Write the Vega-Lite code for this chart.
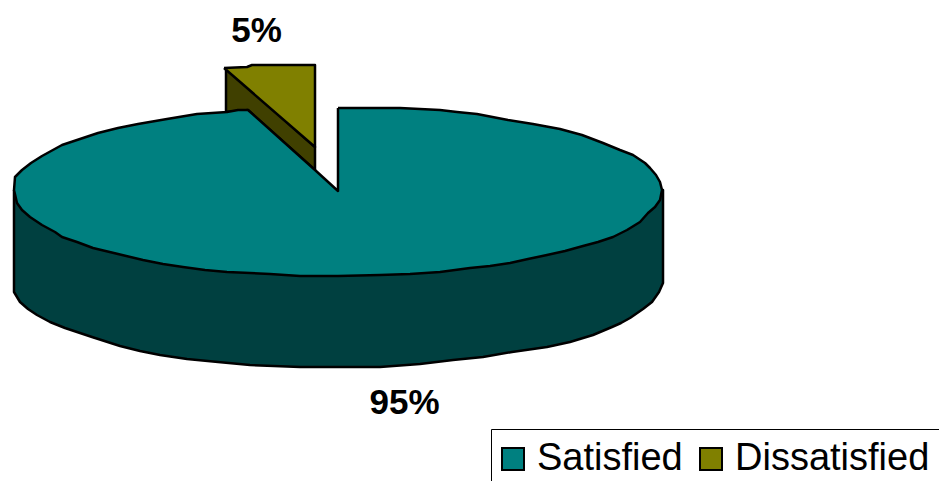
{
"$schema":"https://vega.github.io/schema/vega-lite/v6.json",
"width":939,"height":481,"padding":0,"autosize":{"type":"none"},
"background":"white",
"config":{"view":{"stroke":null}},
"layer":[
{"data":{"values":[
{"part":"Satisfied side","s":1,"x":14,"y":190},{"part":"Satisfied side","s":2,"x":14,"y":292},{"part":"Satisfied side","s":3,"x":20,"y":302},{"part":"Satisfied side","s":4,"x":28,"y":309},{"part":"Satisfied side","s":5,"x":37,"y":315},{"part":"Satisfied side","s":6,"x":50,"y":322},{"part":"Satisfied side","s":7,"x":65,"y":328},{"part":"Satisfied side","s":8,"x":92,"y":337},{"part":"Satisfied side","s":9,"x":120,"y":346},{"part":"Satisfied side","s":10,"x":140,"y":351},{"part":"Satisfied side","s":11,"x":160,"y":355},{"part":"Satisfied side","s":12,"x":187,"y":359},{"part":"Satisfied side","s":13,"x":218,"y":362},{"part":"Satisfied side","s":14,"x":250,"y":365},{"part":"Satisfied side","s":15,"x":300,"y":367},{"part":"Satisfied side","s":16,"x":338,"y":367},{"part":"Satisfied side","s":17,"x":380,"y":367},{"part":"Satisfied side","s":18,"x":420,"y":364},{"part":"Satisfied side","s":19,"x":453,"y":360},{"part":"Satisfied side","s":20,"x":483,"y":357},{"part":"Satisfied side","s":21,"x":512,"y":352},{"part":"Satisfied side","s":22,"x":547,"y":347},{"part":"Satisfied side","s":23,"x":570,"y":342},{"part":"Satisfied side","s":24,"x":593,"y":335},{"part":"Satisfied side","s":25,"x":612,"y":327},{"part":"Satisfied side","s":26,"x":621,"y":323},{"part":"Satisfied side","s":27,"x":630,"y":318},{"part":"Satisfied side","s":28,"x":643,"y":309},{"part":"Satisfied side","s":29,"x":652,"y":302},{"part":"Satisfied side","s":30,"x":659,"y":292},{"part":"Satisfied side","s":31,"x":663,"y":283},{"part":"Satisfied side","s":32,"x":663,"y":190},{"part":"Satisfied side","s":33,"x":338,"y":230},{"part":"Satisfied side","s":34,"x":14,"y":190},
{"part":"Dissatisfied side","s":1,"x":226,"y":68},{"part":"Dissatisfied side","s":2,"x":226,"y":112},{"part":"Dissatisfied side","s":3,"x":248,"y":110},{"part":"Dissatisfied side","s":4,"x":315,"y":170},{"part":"Dissatisfied side","s":5,"x":315,"y":147},{"part":"Dissatisfied side","s":6,"x":226,"y":68},
{"part":"Dissatisfied","s":1,"x":224,"y":68},{"part":"Dissatisfied","s":2,"x":247,"y":67},{"part":"Dissatisfied","s":3,"x":252,"y":65},{"part":"Dissatisfied","s":4,"x":315,"y":65},{"part":"Dissatisfied","s":5,"x":315,"y":147},{"part":"Dissatisfied","s":6,"x":224,"y":68},
{"part":"Satisfied","s":1,"x":338,"y":108},{"part":"Satisfied","s":2,"x":370,"y":108},{"part":"Satisfied","s":3,"x":400,"y":108},{"part":"Satisfied","s":4,"x":440,"y":110},{"part":"Satisfied","s":5,"x":457,"y":112},{"part":"Satisfied","s":6,"x":477,"y":114},{"part":"Satisfied","s":7,"x":508,"y":120},{"part":"Satisfied","s":8,"x":533,"y":124},{"part":"Satisfied","s":9,"x":560,"y":129},{"part":"Satisfied","s":10,"x":582,"y":135},{"part":"Satisfied","s":11,"x":603,"y":143},{"part":"Satisfied","s":12,"x":620,"y":150},{"part":"Satisfied","s":13,"x":633,"y":155},{"part":"Satisfied","s":14,"x":645,"y":163},{"part":"Satisfied","s":15,"x":650,"y":168},{"part":"Satisfied","s":16,"x":656,"y":175},{"part":"Satisfied","s":17,"x":660,"y":182},{"part":"Satisfied","s":18,"x":662,"y":190},{"part":"Satisfied","s":19,"x":660,"y":200},{"part":"Satisfied","s":20,"x":655,"y":207},{"part":"Satisfied","s":21,"x":648,"y":213},{"part":"Satisfied","s":22,"x":640,"y":222},{"part":"Satisfied","s":23,"x":627,"y":230},{"part":"Satisfied","s":24,"x":613,"y":237},{"part":"Satisfied","s":25,"x":598,"y":242},{"part":"Satisfied","s":26,"x":583,"y":246},{"part":"Satisfied","s":27,"x":565,"y":251},{"part":"Satisfied","s":28,"x":547,"y":255},{"part":"Satisfied","s":29,"x":528,"y":259},{"part":"Satisfied","s":30,"x":510,"y":263},{"part":"Satisfied","s":31,"x":490,"y":266},{"part":"Satisfied","s":32,"x":470,"y":268},{"part":"Satisfied","s":33,"x":440,"y":272},{"part":"Satisfied","s":34,"x":410,"y":274},{"part":"Satisfied","s":35,"x":380,"y":275},{"part":"Satisfied","s":36,"x":338,"y":276},{"part":"Satisfied","s":37,"x":300,"y":276},{"part":"Satisfied","s":38,"x":270,"y":274},{"part":"Satisfied","s":39,"x":227,"y":272},{"part":"Satisfied","s":40,"x":205,"y":270},{"part":"Satisfied","s":41,"x":183,"y":267},{"part":"Satisfied","s":42,"x":163,"y":264},{"part":"Satisfied","s":43,"x":143,"y":260},{"part":"Satisfied","s":44,"x":118,"y":254},{"part":"Satisfied","s":45,"x":93,"y":248},{"part":"Satisfied","s":46,"x":77,"y":242},{"part":"Satisfied","s":47,"x":62,"y":237},{"part":"Satisfied","s":48,"x":55,"y":232},{"part":"Satisfied","s":49,"x":42,"y":225},{"part":"Satisfied","s":50,"x":30,"y":217},{"part":"Satisfied","s":51,"x":22,"y":210},{"part":"Satisfied","s":52,"x":17,"y":203},{"part":"Satisfied","s":53,"x":14,"y":190},{"part":"Satisfied","s":54,"x":15,"y":177},{"part":"Satisfied","s":55,"x":22,"y":170},{"part":"Satisfied","s":56,"x":31,"y":163},{"part":"Satisfied","s":57,"x":42,"y":156},{"part":"Satisfied","s":58,"x":62,"y":145},{"part":"Satisfied","s":59,"x":80,"y":139},{"part":"Satisfied","s":60,"x":98,"y":133},{"part":"Satisfied","s":61,"x":118,"y":128},{"part":"Satisfied","s":62,"x":138,"y":124},{"part":"Satisfied","s":63,"x":167,"y":119},{"part":"Satisfied","s":64,"x":197,"y":114},{"part":"Satisfied","s":65,"x":227,"y":112},{"part":"Satisfied","s":66,"x":238,"y":110},{"part":"Satisfied","s":67,"x":248,"y":110},{"part":"Satisfied","s":68,"x":315,"y":170},{"part":"Satisfied","s":69,"x":338,"y":191},{"part":"Satisfied","s":70,"x":338,"y":108}
]},
"mark":{"type":"line","stroke":"black","strokeWidth":2.5,"strokeJoin":"round","clip":false},
"encoding":{
"x":{"field":"x","type":"quantitative","scale":{"domain":[0,939]},"axis":null},
"y":{"field":"y","type":"quantitative","scale":{"domain":[481,0]},"axis":null},
"order":{"field":"s","type":"quantitative"},
"fill":{"field":"part","type":"nominal","scale":{"domain":["Satisfied","Dissatisfied","Satisfied side","Dissatisfied side"],"range":["#008080","#808000","#004040","#404000"]},
"legend":{"title":null,"orient":"none","legendX":491,"legendY":429,"direction":"horizontal","columns":2,"values":["Satisfied","Dissatisfied"],"symbolType":"square","symbolSize":484,"symbolStrokeColor":"black","symbolStrokeWidth":2,"symbolOpacity":1,"symbolOffset":-8,"labelFont":"Liberation Sans","labelFontSize":38,"labelColor":"black","labelOffset":5,"labelLimit":400,"strokeColor":"black","padding":11,"columnPadding":13,"cornerRadius":0}}
}},
{"data":{"values":[{"share":0.05,"lx":256.5,"ly":42},{"share":0.95,"lx":404.5,"ly":414}]},
"mark":{"type":"text","font":"Liberation Sans","fontWeight":"bold","fontSize":35,"color":"black","align":"center","baseline":"alphabetic"},
"encoding":{
"x":{"field":"lx","type":"quantitative","scale":{"domain":[0,939]},"axis":null},
"y":{"field":"ly","type":"quantitative","scale":{"domain":[481,0]},"axis":null},
"text":{"field":"share","type":"quantitative","format":".0%"}
}}
]
}
